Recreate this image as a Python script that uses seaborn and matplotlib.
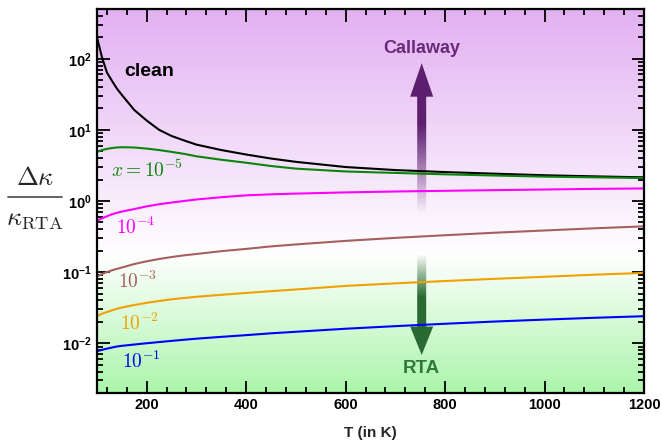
"""Relative conductivity enhancement vs temperature for several impurity levels."""

import numpy as np
import pandas as pd
import matplotlib
matplotlib.use("Agg")
import matplotlib.pyplot as plt
import seaborn as sns
from matplotlib.colors import LinearSegmentedColormap, to_rgb
from matplotlib.lines import Line2D
from matplotlib.patches import Polygon
from matplotlib.ticker import MultipleLocator, LogLocator, FuncFormatter, NullFormatter

# temperature grid (K) and curves
T = [100, 105, 110, 120, 130, 140, 150, 175, 200, 225, 250, 275, 300, 350, 400, 450, 500,
     600, 700, 800, 900, 1000, 1100, 1200]
clean = [199, 145, 105, 64, 49, 38, 31, 19, 13.5, 10.0, 8.2, 7.1, 6.2, 5.2, 4.5, 3.95, 3.55,
         3.0, 2.72, 2.55, 2.42, 2.3, 2.22, 2.15]
x_1e5 = [4.9, 5.05, 5.2, 5.4, 5.55, 5.65, 5.7, 5.65, 5.45, 5.2, 4.9, 4.6, 4.25, 3.8, 3.45, 3.1, 2.85,
         2.6, 2.48, 2.37, 2.28, 2.2, 2.15, 2.1]
x_1e4 = [0.52, 0.55, 0.57, 0.61, 0.65, 0.68, 0.71, 0.77, 0.84, 0.9, 0.95, 1.0, 1.05, 1.13, 1.2, 1.24, 1.27,
         1.32, 1.36, 1.39, 1.42, 1.45, 1.48, 1.5]
x_1e3 = [0.087, 0.09, 0.094, 0.10, 0.106, 0.111, 0.116, 0.13, 0.142, 0.153, 0.163, 0.172, 0.18, 0.197,
         0.212, 0.23, 0.245, 0.275, 0.303, 0.33, 0.358, 0.385, 0.413, 0.44]
x_1e2 = [0.024, 0.025, 0.026, 0.0275, 0.029, 0.0305, 0.0318, 0.0345, 0.037, 0.0393, 0.0415, 0.0433,
         0.045, 0.048, 0.051, 0.054, 0.057, 0.064, 0.0695, 0.075, 0.0805, 0.086, 0.092, 0.0975]
x_1e1 = [0.0077, 0.0079, 0.0081, 0.0084, 0.0087, 0.009, 0.0092, 0.0096, 0.0100, 0.0104, 0.0108, 0.0112,
         0.0116, 0.0123, 0.013, 0.0138, 0.0145, 0.016, 0.0174, 0.0188, 0.0202, 0.0215, 0.0228, 0.024]

series = ["clean", "1e-5", "1e-4", "1e-3", "1e-2", "1e-1"]
curve_values = [clean, x_1e5, x_1e4, x_1e3, x_1e2, x_1e1]
curve_labels = ["clean", r"$x = 10^{-5}$", r"$10^{-4}$", r"$10^{-3}$", r"$10^{-2}$", r"$10^{-1}$"]
label_T = [155, 129, 139, 143, 146, 150]
label_y = [67, 2.15, 0.34, 0.060, 0.0155, 0.0045]
palette = {"clean": "#000000", "1e-5": "#0a850a", "1e-4": "#ff00ff",
           "1e-3": "#a5605e", "1e-2": "#f0a000", "1e-1": "#0000ff"}

data = pd.DataFrame({
    "T": T * len(series),
    "ratio": [v for vals in curve_values for v in vals],
    "series": [s for s in series for _ in T],
})

sns.set_style("ticks")
plt.rcParams["font.family"] = ["Liberation Sans", "DejaVu Sans"]
plt.rcParams["mathtext.fontset"] = "custom"
plt.rcParams["mathtext.rm"] = "Liberation Sans:bold"
plt.rcParams["mathtext.bf"] = "Liberation Sans:bold"
plt.rcParams["mathtext.it"] = "Liberation Sans:bold"

fig = plt.figure(figsize=(6.62, 4.45), dpi=100)
ax = fig.add_axes([0.1465, 0.1169, 0.8263, 0.8629])

# background gradient: green at the bottom, white, purple at the top
bg = LinearSegmentedColormap.from_list("bg", [(0, "#abf5ab"), (0.36, "#ffffff"), (1, "#e2b0f2")])
ax.imshow(np.linspace(0, 1, 256).reshape(-1, 1), cmap=bg, origin="lower", aspect="auto",
          extent=[0, 1, 0, 1], transform=ax.transAxes, zorder=0)

sns.lineplot(data=data, x="T", y="ratio", hue="series", palette=palette, hue_order=series,
             linewidth=1.5, legend=False, ax=ax, zorder=3)

ax.set_yscale("log")
ax.set_xlim(100, 1200)
ax.set_ylim(0.002, 500)

for text, tx, ty, s in zip(curve_labels, label_T, label_y, series):
    if s == "clean":
        ax.text(tx, ty, text, color=palette[s], fontsize=14, fontweight="bold", va="center", ha="left", zorder=4)
    else:
        ax.text(tx, ty, text, color=palette[s], fontsize=14, va="baseline", ha="left",
                math_fontfamily="cm", zorder=4)


def gradient_arrow(cx, tail, base, tip, color, fade_end):
    w = 547.0
    sw, hw = 4.5 / w, 11.5 / w
    verts = [(cx - sw, tail), (cx + sw, tail), (cx + sw, base), (cx + hw, base),
             (cx, tip), (cx - hw, base), (cx - sw, base)]
    poly = Polygon(verts, closed=True, transform=ax.transAxes, facecolor="none", edgecolor="none")
    ax.add_patch(poly)
    lo, hi = min(tail, tip), max(tail, tip)
    ys = np.linspace(lo, hi, 200)
    alpha = np.clip((ys - tail) / (fade_end - tail), 0, 1)
    img = np.zeros((200, 1, 4))
    img[:, 0, :3] = to_rgb(color)
    img[:, 0, 3] = alpha
    im = ax.imshow(img, origin="lower", aspect="auto", extent=[cx - hw, cx + hw, lo, hi],
                   transform=ax.transAxes, zorder=2)
    im.set_clip_path(poly)


gradient_arrow(0.5936, 0.470, 0.7716, 0.859, "#5c1f6e", 0.70)
gradient_arrow(0.5936, 0.362, 0.173, 0.099, "#2a6a32", 0.25)
ax.text(0.5936, 0.898, "Callaway", transform=ax.transAxes, ha="center", va="center",
        fontsize=13, fontweight="bold", color="#6a2a7a", zorder=4)
ax.text(0.5936, 0.065, "RTA", transform=ax.transAxes, ha="center", va="center",
        fontsize=13.5, fontweight="bold", color="#2f7a3a", zorder=4)

ax.set_xlim(100, 1200)
ax.set_ylim(0.002, 500)

ax.xaxis.set_major_locator(MultipleLocator(200))
ax.xaxis.set_minor_locator(MultipleLocator(40))
ax.yaxis.set_major_locator(LogLocator(base=10, numticks=20))
ax.yaxis.set_minor_locator(LogLocator(base=10, subs=np.arange(2, 10), numticks=20))
ax.yaxis.set_minor_formatter(NullFormatter())
ax.yaxis.set_major_formatter(FuncFormatter(lambda v, _: rf"$\mathbf{{10^{{{int(round(np.log10(v)))}}}}}$"))
ax.xaxis.set_major_formatter(FuncFormatter(lambda v, _: f"{v:.0f}" if v > 100 else ""))

ax.tick_params(which="both", direction="in", top=True, right=True, colors="black", width=1.3)
ax.tick_params(which="major", length=9, labelsize=10.5)
ax.tick_params(which="minor", length=4.5)
for lab in ax.get_xticklabels():
    lab.set_fontweight("bold")
for spine in ax.spines.values():
    spine.set_linewidth(1.6)
    spine.set_color("black")
    spine.set_zorder(5)

ax.set_xlabel("T (in K)", fontsize=11, fontweight="bold", labelpad=10)
ax.set_ylabel("")

# y label drawn as a fraction with a long grey bar
fig.text(35 / 662, 1 - 178 / 445, r"$\Delta\kappa$", ha="center", va="center", fontsize=19,
         math_fontfamily="cm")
fig.text(35 / 662, 1 - 219 / 445, r"$\kappa_{\rm RTA}$", ha="center", va="center", fontsize=19,
         math_fontfamily="cm")
fig.add_artist(Line2D([8 / 662, 62 / 662], [1 - 197 / 445, 1 - 197 / 445], color="#555555",
                      linewidth=1.3, transform=fig.transFigure))

fig.savefig("out.png", dpi=100)
